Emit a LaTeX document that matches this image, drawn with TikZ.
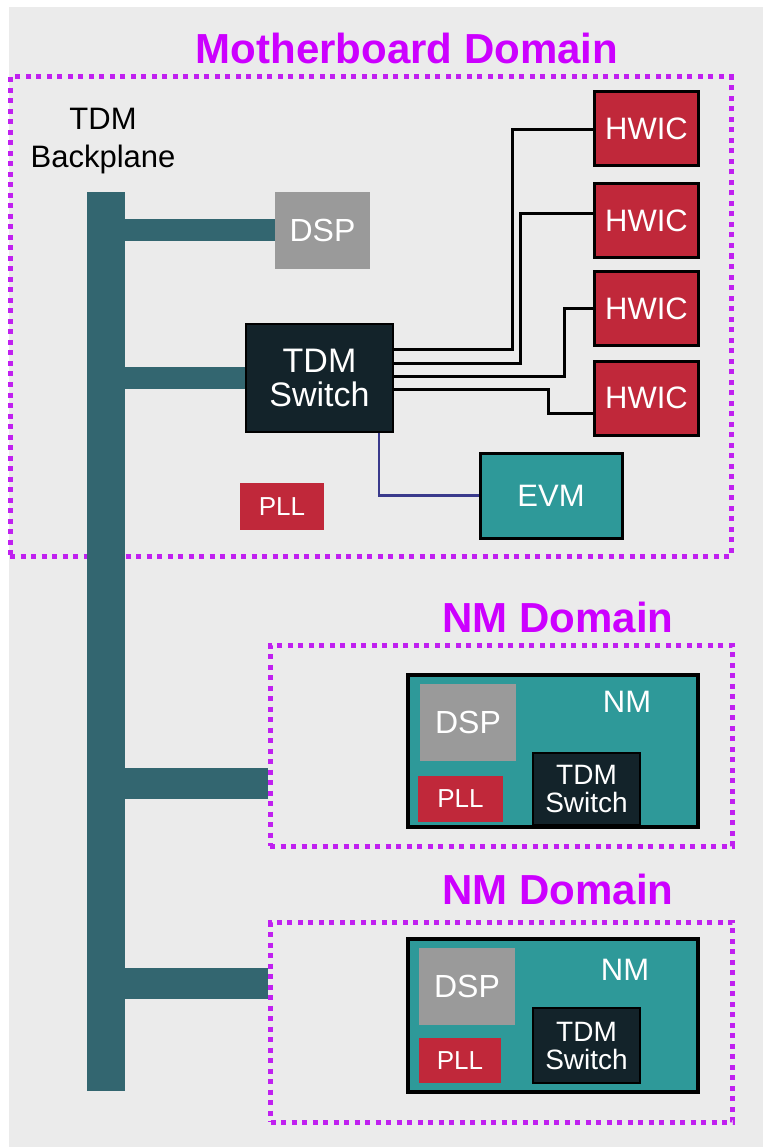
\documentclass[tikz,border=0pt]{standalone}
\usepackage{fontspec}
\setmainfont{Liberation Sans}
\usetikzlibrary{calc}
\definecolor{bgc}{HTML}{EBEBEB}
\definecolor{bus}{HTML}{336670}
\definecolor{teal}{HTML}{2E9999}
\definecolor{hwred}{HTML}{C0283A}
\definecolor{dspgray}{HTML}{9A9A9A}
\definecolor{swdark}{HTML}{13232A}
\definecolor{titlec}{HTML}{CC00FF}
\definecolor{dotc}{HTML}{C020F0}
\definecolor{evmline}{HTML}{3A3A8C}
\newcommand{\fs}[1]{\fontsize{#1}{#1}\selectfont}
\tikzset{
  dombox/.style={draw=dotc, line width=5pt, dash pattern=on 5pt off 5.5pt},
  blk/.style={inner sep=0pt, text=white, align=center, font=\fs{31}},
  hwic/.style={blk, fill=hwred, draw=black, line width=3pt, minimum width=104pt, minimum height=74pt},
  dspbox/.style={blk, fill=dspgray, font=\fs{32}},
  pllbox/.style={blk, fill=hwred, font=\fs{26}},
  swbox/.style={blk, fill=swdark, draw=black, line width=2pt},
  wire/.style={black, line width=3pt},
  branch/.style={bus, line width=#1},
  title/.style={text=titlec, font=\bfseries\fs{42}, inner sep=0pt}
}
\begin{document}
\begin{tikzpicture}[x=1pt,y=-1pt]
\useasboundingbox (0,0) rectangle (763,1147);
\fill[bgc] (9,7) rectangle (763,1147);

% titles
\node[title] (tmb) at (407,48) {Motherboard Domain};
\node[title] (tnm1) at (558,617) {NM Domain};
\node[title] (tnm2) at (558,889) {NM Domain};

% domain boxes
\node[dombox, minimum width=721pt, minimum height=479pt, inner sep=0pt] (mbd) at (370.5,316.5) {};
\node[dombox, minimum width=462pt, minimum height=201pt, inner sep=0pt] (nmd1) at (501,745.5) {};
\node[dombox, minimum width=462pt, minimum height=200pt, inner sep=0pt] (nmd2) at (501.5,1022) {};

% backplane label
\node[align=center, font=\fs{31}, inner sep=0pt] (bpl) at (103,141) {TDM\\[7pt]Backplane};

% backplane bar
\node[fill=bus, minimum width=38pt, minimum height=899pt, inner sep=0pt] (bp) at (106,641.5) {};

% motherboard components
\node[dspbox, minimum width=95pt, minimum height=77pt] (dsp) at (322.5,230.5) {DSP};
\node[swbox, minimum width=147pt, minimum height=108pt, font=\fs{34}] (sw) at (319.5,378) {TDM\\Switch};
\node[pllbox, minimum width=84pt, minimum height=47pt] (pll) at (282,506.5) {PLL};
\node[blk, fill=teal, draw=black, line width=3pt, minimum width=142pt, minimum height=85pt] (evm) at (551,495.5) {EVM};
\node[hwic] (h1) at (646.5,128.5) {HWIC};
\node[hwic] (h2) at (646.5,221) {HWIC};
\node[hwic] (h3) at (646.5,308.5) {HWIC};
\node[hwic] (h4) at (646.5,398) {HWIC};

% NM module 1
\node[fill=teal, draw=black, line width=4pt, minimum width=290pt, minimum height=152pt, inner sep=0pt] (nm1) at (553,751) {};
\node[text=white, font=\fs{31}, inner sep=0pt] (nm1t) at (627,702) {NM};
\node[dspbox, minimum width=96pt, minimum height=77pt] (dsp1) at (468,722.5) {DSP};
\node[pllbox, minimum width=85pt, minimum height=46pt] (pll1) at (460.5,799) {PLL};
\node[swbox, minimum width=107pt, minimum height=72pt, font=\fs{28}] (sw1) at (586.5,789) {TDM\\Switch};

% NM module 2
\node[fill=teal, draw=black, line width=4pt, minimum width=290pt, minimum height=153pt, inner sep=0pt] (nm2) at (553,1015.5) {};
\node[text=white, font=\fs{31}, inner sep=0pt] (nm2t) at (625,970) {NM};
\node[dspbox, minimum width=96pt, minimum height=77pt] (dsp2) at (467,986.5) {DSP};
\node[pllbox, minimum width=82pt, minimum height=45pt] (pll2) at (460,1060.5) {PLL};
\node[swbox, minimum width=107pt, minimum height=75pt, font=\fs{28}] (sw2) at (586.5,1045.5) {TDM\\Switch};

% bus branches
\draw[branch=22pt] (bp.east |- dsp.west) -- (dsp.west);
\draw[branch=22pt] (bp.east |- sw.west) -- (sw.west);
\coordinate (b1) at (0,783.5);
\coordinate (b2) at (0,983.5);
\draw[branch=31pt] (bp.east |- b1) -- (nmd1.west |- b1);
\draw[branch=31pt] (bp.east |- b2) -- (nmd2.west |- b2);

% switch to HWIC wires
\coordinate (w1a) at (512,349); \coordinate (w1b) at (512,130);
\coordinate (w2a) at (520,363); \coordinate (w2b) at (520,214);
\coordinate (w3a) at (564,376); \coordinate (w3b) at (564,308.5);
\coordinate (w4a) at (548,389); \coordinate (w4b) at (548,413);
\draw[wire] (sw.east |- w1a) -- (w1a) -- (w1b) -- (h1.west |- w1b);
\draw[wire] (sw.east |- w2a) -- (w2a) -- (w2b) -- (h2.west |- w2b);
\draw[wire] (sw.east |- w3a) -- (w3a) -- (w3b) -- (h3.west |- w3b);
\draw[wire] (sw.east |- w4a) -- (w4a) -- (w4b) -- (h4.west |- w4b);

% switch to EVM
\coordinate (e1) at (379,0);
\draw[evmline, line width=2.5pt] (e1 |- sw.south) |- (evm.west);
\end{tikzpicture}
\end{document}
